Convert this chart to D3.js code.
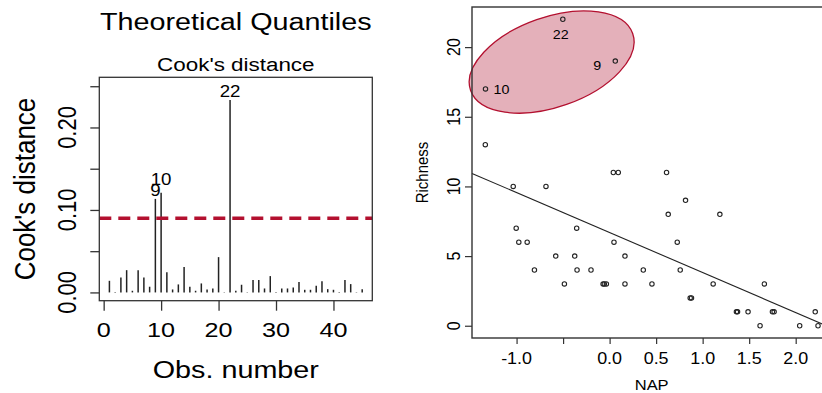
<!DOCTYPE html>
<html><head><meta charset="utf-8">
<script src="https://cdn.jsdelivr.net/npm/d3@7/dist/d3.min.js"></script>
<style>
body{margin:0;background:#fff}
svg{display:block}
text{font-family:"Liberation Sans",Arial,Helvetica,sans-serif;fill:#000}
</style>
</head><body>
<svg id="c" width="822" height="393"></svg>
<script>
// ---------------- data ----------------
const obsNumbers = d3.range(1, 46);
const cooksD = [0.0141,0.0004,0.0182,0.027,0.002,0.027,0.018,0.0069,0.1134,0.121,
  0.0246,0.0036,0.0097,0.0307,0.0069,0.002,0.0109,0.0036,0.0048,0.0428,
  0.0004,0.2333,0.002,0.0093,0.0004,0.015,0.015,0.0048,0.0198,0.0004,
  0.0048,0.0048,0.006,0.0125,0.0032,0.0032,0.0081,0.0137,0.004,0.0032,
  0.0004,0.015,0.0101,0.0004,0.004];
const cooksCutoff = 0.09;
const cooksXTicks = [0, 10, 20, 30, 40];
const cooksYTicks = [0, 0.05, 0.10, 0.15, 0.20, 0.25];
const cooksYTickLabels = [0, 0.10, 0.20];
const flaggedObs = [9, 10, 22];

const napValues = [-1.336,-1.036,-0.684,-1.004,-0.976,-0.886,-0.808,-0.579,0.061,-1.334,
  -0.486,-0.375,-0.354,-0.35,-0.20,-0.07,-0.057,-0.035,0.04,0.093,
  0.047,-0.503,0.165,0.165,0.612,0.816,0.63,1.185,0.727,0.362,
  0.759,0.455,1.113,1.663,0.866,0.88,1.363,1.375,1.488,1.75,
  1.768,2.21,1.617,2.043,2.24];
const richnessValues = [13,10,10,7,6,6,4,5,19,17,
  3,5,7,4,4,3,3,3,11,11,
  6,22,5,3,11,9,8,8,6,4,
  4,3,3,3,2,2,1,1,1,1,
  1,1,0,0,0];
const fitCoef = [6.69, -2.87]; // intercept, slope
const napTicks = [-1.0, -0.5, 0.0, 0.5, 1.0, 1.5, 2.0];
const napTickLabels = [-1.0, 0.0, 0.5, 1.0, 1.5, 2.0];
const richTicks = [0, 5, 10, 15, 20];
const ellipseCentre = {nap: -0.623, rich: 18.93};

// ---------------- drawing ----------------
const svg = d3.select('#c');
const INK = '#222', BOX = '#333', RED = '#b3102f';

function txt(g, x, y, s, size, o = {}) {
  return g.append('text')
    .attr('transform', `translate(${x},${y}) scale(${o.sx || 1},1)` + (o.rot ? ` rotate(${o.rot})` : ''))
    .attr('font-size', size)
    .attr('text-anchor', o.anchor || 'middle')
    .text(s);
}

// ===== Left panel: Cook's distance =====
const L = {l: 99.3, r: 372.3, t: 77.3, b: 300.7};
const nObs = obsNumbers.length;
const xL = d3.scaleLinear()
  .domain([1 - 0.04 * (nObs - 1), nObs + 0.04 * (nObs - 1)])
  .range([L.l, L.r]);
const yTop = d3.max(cooksD) * 1.075;
const yL = d3.scaleLinear().domain([-0.04 * yTop, yTop * 1.04]).range([L.b, L.t]);

const gl = svg.append('g');

gl.append('g').selectAll('line').data(cooksD).join('line')
  .attr('x1', (d, i) => xL(obsNumbers[i])).attr('x2', (d, i) => xL(obsNumbers[i]))
  .attr('y1', yL(0)).attr('y2', d => yL(d))
  .attr('stroke', INK).attr('stroke-width', 1.5);

gl.append('line')
  .attr('x1', L.l).attr('x2', L.r)
  .attr('y1', yL(cooksCutoff)).attr('y2', yL(cooksCutoff))
  .attr('stroke', RED).attr('stroke-width', 3.5).attr('stroke-dasharray', '12,7');

gl.append('rect').attr('x', L.l).attr('y', L.t).attr('width', L.r - L.l).attr('height', L.b - L.t)
  .attr('fill', 'none').attr('stroke', BOX).attr('stroke-width', 1.3);

const axL = gl.append('g').attr('transform', `translate(0,${L.b})`)
  .call(d3.axisBottom(xL).tickValues(cooksXTicks).tickSize(10).tickSizeOuter(0).tickFormat(''));
const ayL = gl.append('g').attr('transform', `translate(${L.l},0)`)
  .call(d3.axisLeft(yL).tickValues(cooksYTicks).tickSize(9).tickSizeOuter(0).tickFormat(''));
[axL, ayL].forEach(a => {
  a.select('.domain').remove();
  a.selectAll('line').attr('stroke', BOX).attr('stroke-width', 1.3);
});

cooksXTicks.forEach(v => txt(gl, xL(v), 337, String(v), 21, {sx: 1.2}));
cooksYTickLabels.forEach(v => txt(gl, 76, yL(v), v.toFixed(2), 22, {sx: 1.15, rot: -90}));

// point labels: 10 sits a little higher so that it clears the label of 9
flaggedObs.forEach(o => {
  const lift = o === 10 ? 8 : 3;
  txt(gl, xL(o), yL(cooksD[o - 1]) - lift, String(o), 17, {sx: 1.1});
});

const cxL = (L.l + L.r) / 2;
txt(gl, cxL, 30, 'Theoretical Quantiles', 23, {sx: 1.25});
txt(gl, cxL, 71, "Cook's distance", 19, {sx: 1.18});
txt(gl, cxL, 378, 'Obs. number', 23, {sx: 1.25});
txt(gl, 35, (L.t + L.b) / 2, "Cook's distance", 26, {sx: 1.12, rot: -90});

// ===== Right panel: Richness vs NAP =====
const R = {l: 472, t: 7, b: 338};
const napExt = d3.extent(napValues);
const napPad = 0.04 * (napExt[1] - napExt[0]);
const richExt = d3.extent(richnessValues);
const richPad = 0.04 * (richExt[1] - richExt[0]);
const xScaleStep = 93.04;
const xR = d3.scaleLinear().domain([napExt[0] - napPad, napExt[1] + napPad])
  .range([R.l, R.l + xScaleStep * (napExt[1] - napExt[0] + 2 * napPad)]);
const yR = d3.scaleLinear().domain([richExt[0] - richPad, richExt[1] + richPad]).range([R.b, R.t]);
R.r = xR.range()[1];

const gr = svg.append('g');

// ellipse highlight
const ec = [xR(ellipseCentre.nap), yR(ellipseCentre.rich)];
gr.append('ellipse')
  .attr('transform', `translate(${ec[0]},${ec[1]}) rotate(-19.4)`)
  .attr('rx', 85.9).attr('ry', 45)
  .attr('fill', 'rgb(228,176,186)').attr('stroke', RED).attr('stroke-width', 1.3);

// fitted line
const xd = xR.domain();
gr.append('line')
  .attr('x1', xR(xd[0])).attr('y1', yR(fitCoef[0] + fitCoef[1] * xd[0]))
  .attr('x2', xR(xd[1])).attr('y2', yR(fitCoef[0] + fitCoef[1] * xd[1]))
  .attr('stroke', INK).attr('stroke-width', 1.1);

// points
gr.append('g').selectAll('circle').data(napValues).join('circle')
  .attr('cx', d => xR(d)).attr('cy', (d, i) => yR(richnessValues[i]))
  .attr('r', 2.2).attr('fill', 'none').attr('stroke', INK).attr('stroke-width', 1.1);

// frame
gr.append('rect').attr('x', R.l).attr('y', R.t).attr('width', R.r - R.l).attr('height', R.b - R.t)
  .attr('fill', 'none').attr('stroke', BOX).attr('stroke-width', 1.4);

const axR = gr.append('g').attr('transform', `translate(0,${R.b})`)
  .call(d3.axisBottom(xR).tickValues(napTicks).tickSize(6).tickSizeOuter(0).tickFormat(''));
const ayR = gr.append('g').attr('transform', `translate(${R.l},0)`)
  .call(d3.axisLeft(yR).tickValues(richTicks).tickSize(7).tickSizeOuter(0).tickFormat(''));
[axR, ayR].forEach(a => {
  a.select('.domain').remove();
  a.selectAll('line').attr('stroke', BOX).attr('stroke-width', 1.2);
});

napTickLabels.forEach(v => txt(gr, xR(v), 364, v.toFixed(1), 16, {sx: 1.12}));
richTicks.forEach(v => txt(gr, 460, yR(v), String(v), 16, {sx: 1.15, rot: -90}));

// labels of flagged points
const fl = i => [xR(napValues[i - 1]), yR(richnessValues[i - 1])];
{ const p = fl(22); txt(gr, p[0] - 2, p[1] + 20, '22', 13, {sx: 1.1}); }
{ const p = fl(9);  txt(gr, p[0] - 14, p[1] + 9, '9', 13, {sx: 1.1, anchor: 'end'}); }
{ const p = fl(10); txt(gr, p[0] + 8, p[1] + 5, '10', 13, {sx: 1.1, anchor: 'start'}); }

txt(gr, (R.l + R.r) / 2, 390, 'NAP', 15, {sx: 1.1});
txt(gr, 428, (R.t + R.b) / 2, 'Richness', 15, {sx: 1.15, rot: -90});
</script>
</body></html>
